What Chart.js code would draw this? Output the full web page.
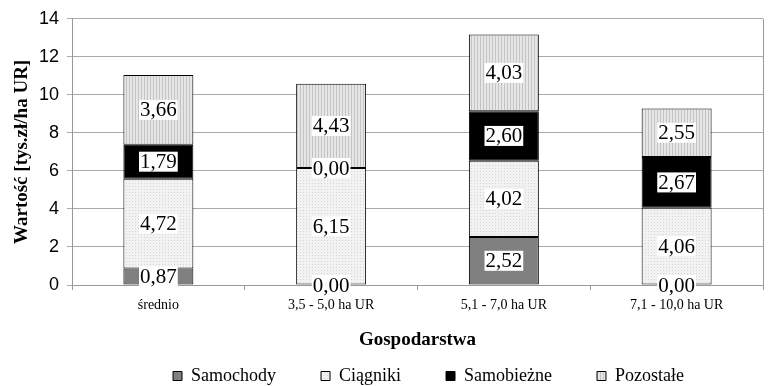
<!DOCTYPE html>
<html>
<head>
<meta charset="utf-8">
<script src="https://cdn.jsdelivr.net/npm/chart.js@4/dist/chart.umd.min.js"></script>
<style>
html,body{margin:0;padding:0;background:#fff;}
#wrap{width:768px;height:386px;}
</style>
</head>
<body>
<div id="wrap"><canvas id="c" width="768" height="386"></canvas></div>
<script>
const categories = ["średnio", "3,5 - 5,0 ha UR", "5,1 - 7,0 ha UR", "7,1 - 10,0 ha UR"];
const samochody = [0.87, 0.00, 2.52, 0.00];
const ciagniki = [4.72, 6.15, 4.02, 4.06];
const samobiezne = [1.79, 0.00, 2.60, 2.67];
const pozostale = [3.66, 4.43, 4.03, 2.55];
const seriesNames = ["Samochody", "Ciągniki", "Samobieżne", "Pozostałe"];
const yTicks = [0, 2, 4, 6, 8, 10, 12, 14];

function makePattern(bg, fg, kind) {
  const p = document.createElement('canvas');
  p.width = 3; p.height = 3;
  const g = p.getContext('2d');
  g.fillStyle = bg; g.fillRect(0, 0, 3, 3);
  g.fillStyle = fg;
  if (kind === 'dots') {
    g.fillRect(0, 0, 1, 1);
  } else {
    g.fillRect(0, 0, 1, 3);
  }
  return document.getElementById('c').getContext('2d').createPattern(p, 'repeat');
}
const ciagnikiFill = makePattern('#f2f2f2', '#d6d6d6', 'dots');
const pozostaleFill = makePattern('#e6e6e6', '#c4c4c4', 'lines');

const serif = "'Liberation Serif', 'Times New Roman', serif";
const sans = "'Liberation Sans', Arial, sans-serif";

const labelPlugin = {
  id: 'valueLabels',
  afterDatasetsDraw(chart) {
    const ctx = chart.ctx;
    ctx.save();
    ctx.font = "21px " + serif;
    ctx.textAlign = 'center';
    ctx.textBaseline = 'middle';
    chart.data.datasets.forEach((ds, di) => {
      const meta = chart.getDatasetMeta(di);
      meta.data.forEach((el, i) => {
        const v = ds.data[i];
        const txt = v.toFixed(2).replace('.', ',');
        const cx = el.x;
        const cy = (el.y + el.base) / 2;
        const w = ctx.measureText(txt).width + 2;
        const h = 20;
        ctx.fillStyle = '#ffffff';
        ctx.fillRect(cx - w / 2, cy - h / 2, w, h);
        ctx.fillStyle = '#000000';
        ctx.fillText(txt, cx, cy + 1);
      });
    });
    ctx.restore();
  }
};

const borderPlugin = {
  id: 'rightBorder',
  beforeDatasetsDraw(chart) {
    const a = chart.chartArea;
    const ctx = chart.ctx;
    ctx.save();
    ctx.strokeStyle = '#999999';
    ctx.lineWidth = 1;
    ctx.beginPath();
    ctx.moveTo(Math.round(a.right) + 0.5, a.top);
    ctx.lineTo(Math.round(a.right) + 0.5, a.bottom);
    ctx.stroke();
    ctx.restore();
  }
};

const legendPlace = {
  id: 'legendPlace',
  afterInit(chart) {
    const lg = chart.legend;
    if (!lg) return;
    const f = lg.fit;
    lg.fit = function () { f.call(this); this.height = 0; };
  },
  afterLayout(chart) {
    const lg = chart.legend;
    if (!lg) return;
    lg.top = 376 - 45 - 9;
    lg.bottom = lg.top + 70;
    lg.left += 47;
    lg.right += 47;
  }
};

new Chart(document.getElementById('c'), {
  type: 'bar',
  data: {
    labels: categories,
    datasets: [
      { label: seriesNames[0], data: samochody, backgroundColor: '#808080' },
      { label: seriesNames[1], data: ciagniki, backgroundColor: ciagnikiFill },
      { label: seriesNames[2], data: samobiezne, backgroundColor: '#000000' },
      { label: seriesNames[3], data: pozostale, backgroundColor: pozostaleFill }
    ].map(d => Object.assign(d, {
      borderColor: '#000000',
      borderWidth: 1,
      borderSkipped: false,
      barPercentage: 1,
      categoryPercentage: 0.405
    }))
  },
  options: {
    responsive: false,
    animation: false,
    devicePixelRatio: 1,
    layout: { padding: { top: 10, right: 5, left: 0, bottom: 0 } },
    plugins: {
      tooltip: { enabled: false },
      legend: {
        position: 'bottom',
        labels: {
          font: { family: serif, size: 18 },
          color: '#000',
          boxWidth: 9,
          boxHeight: 9,
          padding: 45,
          generateLabels(chart) {
            return chart.data.datasets.map((d, i) => ({
              text: d.label,
              fillStyle: d.backgroundColor,
              strokeStyle: '#000',
              lineWidth: 1,
              datasetIndex: i
            }));
          }
        }
      }
    },
    scales: {
      x: {
        stacked: true,
        afterFit(scale) { scale.height = 101; },
        grid: { drawOnChartArea: false, offset: true, tickLength: 5, color: '#999999' },
        border: { color: '#999999' },
        ticks: { font: { family: serif, size: 14 }, color: '#000', padding: 7 },
        title: { display: true, text: 'Gospodarstwa', font: { family: serif, size: 19, weight: 'bold' }, color: '#000', padding: { top: 0, bottom: 35 } }
      },
      y: {
        stacked: true,
        min: 0,
        max: 14,
        afterBuildTicks(scale) { scale.ticks = yTicks.map(v => ({ value: v })); },
        afterFit(scale) { scale.width = 72; },
        grid: { color: '#aaaaaa', tickLength: 5 },
        border: { color: '#999999' },
        ticks: { font: { family: sans, size: 18 }, color: '#000', padding: 8 },
        title: { display: true, text: 'Wartość [tys.zł/ha UR]', font: { family: serif, size: 19, weight: 'bold' }, color: '#000', padding: { top: 11, bottom: 0 } }
      }
    }
  },
  plugins: [labelPlugin, borderPlugin, legendPlace]
});
</script>
</body>
</html>
